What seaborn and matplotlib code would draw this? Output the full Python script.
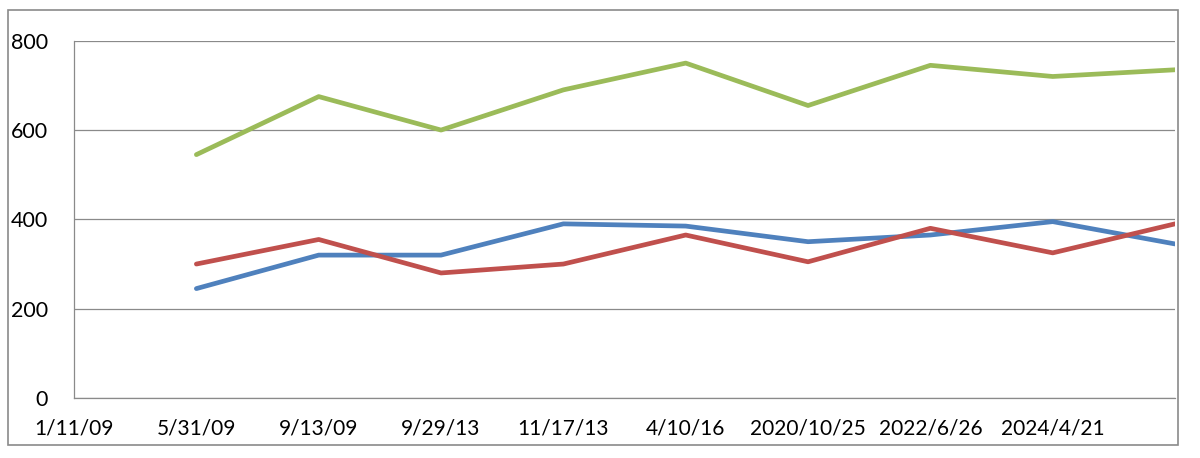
import pandas as pd
import matplotlib.pyplot as plt
import seaborn as sns
from matplotlib.patches import Rectangle

# category labels along the x axis (last slot has no label)
tick_labels = ['1/11/09', '5/31/09', '9/13/09', '9/29/13', '11/17/13',
               '4/10/16', '2020/10/25', '2022/6/26', '2024/4/21', '']
# data points sit on slots 1..9
positions = [1, 2, 3, 4, 5, 6, 7, 8, 9]

blue_vals = [245, 320, 320, 390, 385, 350, 365, 395, 345]
red_vals = [300, 355, 280, 300, 365, 305, 380, 325, 390]
green_vals = [545, 675, 600, 690, 750, 655, 745, 720, 735]

series_names = ['Series1', 'Series2', 'Series3']
colors = ['#4F81BD', '#C0504D', '#9BBB59']

df = pd.DataFrame({
    'x': positions * 3,
    'value': blue_vals + red_vals + green_vals,
    'series': [s for s in series_names for _ in positions],
})

sns.set_style('white')
plt.rcParams['font.family'] = ['Lato', 'DejaVu Sans']

fig = plt.figure(figsize=(12, 4.58), dpi=100)
ax = fig.add_axes([0.0617, 0.131, 0.9175, 0.78])

sns.lineplot(data=df, x='x', y='value', hue='series', palette=colors,
             linewidth=3.4, legend=False, ax=ax)

ax.set_xlim(0, 9)
ax.set_ylim(0, 800)
ax.set_yticks([0, 200, 400, 600, 800])
ax.set_xticks(range(len(tick_labels)))
ax.set_xticklabels(tick_labels)
ax.set_xlabel('')
ax.set_ylabel('')

ax.grid(axis='y', color='#8a8a8a', linewidth=0.9)
ax.set_axisbelow(True)
for side in ['top', 'right']:
    ax.spines[side].set_visible(False)
for side in ['left', 'bottom']:
    ax.spines[side].set_color('#8a8a8a')
    ax.spines[side].set_linewidth(0.9)

ax.tick_params(axis='y', direction='out', length=3.6, width=0.9, color='#8a8a8a',
               pad=15, labelsize=15.5, labelcolor='black')
ax.tick_params(axis='x', direction='out', length=3.6, width=0.9, color='#8a8a8a',
               pad=11, labelsize=15, labelcolor='black')

# outer chart border
fig.patches.append(Rectangle((8 / 1200, 13 / 458), 1170 / 1200, 435 / 458,
                             transform=fig.transFigure, fill=False,
                             edgecolor='#8a8a8a', linewidth=1.2))

fig.savefig('out.png', dpi=100)
